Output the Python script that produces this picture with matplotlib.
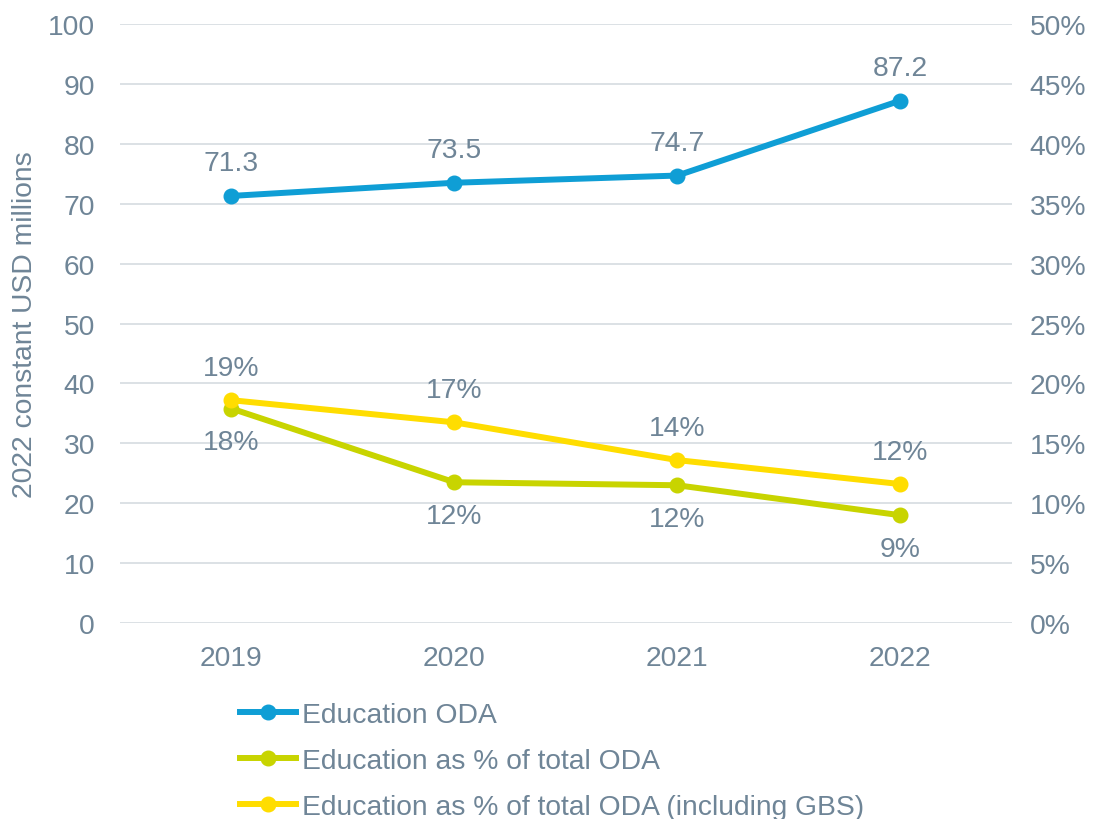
import matplotlib
matplotlib.use("Agg")
import matplotlib.pyplot as plt
from matplotlib.ticker import FuncFormatter

years = ["2019", "2020", "2021", "2022"]
edu_oda = [71.3, 73.5, 74.7, 87.2]
edu_pct = [17.9, 11.75, 11.5, 9.0]
edu_pct_labels = ["18%", "12%", "12%", "9%"]
edu_pct_gbs = [18.6, 16.75, 13.6, 11.6]
edu_pct_gbs_labels = ["19%", "17%", "14%", "12%"]

plt.rcParams['font.family'] = ['Liberation Sans', 'DejaVu Sans']
txt = "#6f8597"
c_blue = "#0f9ed5"
c_green = "#c8d400"
c_yellow = "#ffdd00"
fs = 20.3

fig = plt.figure(figsize=(10.96, 8.2), dpi=100)
ax = fig.add_axes([0.1095, 0.239, 0.8135, 0.7305])
ax2 = ax.twinx()

x = list(range(len(years)))
ax.set_ylim(0, 100)
ax.set_yticks(range(0, 101, 10))
ax2.set_ylim(0, 50)
ax2.set_yticks(range(0, 51, 5))
ax2.yaxis.set_major_formatter(FuncFormatter(lambda v, p: f"{int(v)}%"))
ax.set_xlim(-0.5, 3.5)
ax.set_xticks(x)
ax.set_xticklabels(years)

ax.grid(axis='y', color='#d9dee3', linewidth=1.3)
ax.set_axisbelow(True)
for a in (ax, ax2):
    for s in a.spines.values():
        s.set_visible(False)
    a.tick_params(length=0, labelsize=fs, colors=txt)
ax.tick_params(axis='y', pad=18)
ax2.tick_params(axis='y', pad=13)
ax.tick_params(axis='x', pad=16)
ax.set_ylabel("2022 constant USD millions", fontsize=fs, color=txt, labelpad=7)

lw = 4.3
ms = 10.5
l1, = ax.plot(x, edu_oda, color=c_blue, lw=lw, marker='o', ms=ms, label="Education ODA", zorder=5)
l2, = ax2.plot(x, edu_pct, color=c_green, lw=lw, marker='o', ms=ms, label="Education as % of total ODA", zorder=4)
l3, = ax2.plot(x, edu_pct_gbs, color=c_yellow, lw=lw, marker='o', ms=ms, label="Education as % of total ODA (including GBS)", zorder=5)

for xi, v in zip(x, edu_oda):
    ax.annotate(f"{v:.1f}", (xi, v), xytext=(0, 14), textcoords='offset points',
                ha='center', va='bottom', fontsize=fs, color=txt)
for xi, v, l in zip(x, edu_pct_gbs, edu_pct_gbs_labels):
    ax2.annotate(l, (xi, v), xytext=(0, 14), textcoords='offset points',
                 ha='center', va='bottom', fontsize=fs, color=txt)
for xi, v, l in zip(x, edu_pct, edu_pct_labels):
    ax2.annotate(l, (xi, v), xytext=(0, -15), textcoords='offset points',
                 ha='center', va='top', fontsize=fs, color=txt)

leg = fig.legend(handles=[l1, l2, l3], loc='upper left', bbox_to_anchor=(0.219, 0.143),
                 frameon=False, fontsize=fs, labelcolor=txt, handlelength=2.0,
                 handletextpad=0.2, labelspacing=0.72, borderaxespad=0, borderpad=0)

fig.savefig("out.png", dpi=100)
